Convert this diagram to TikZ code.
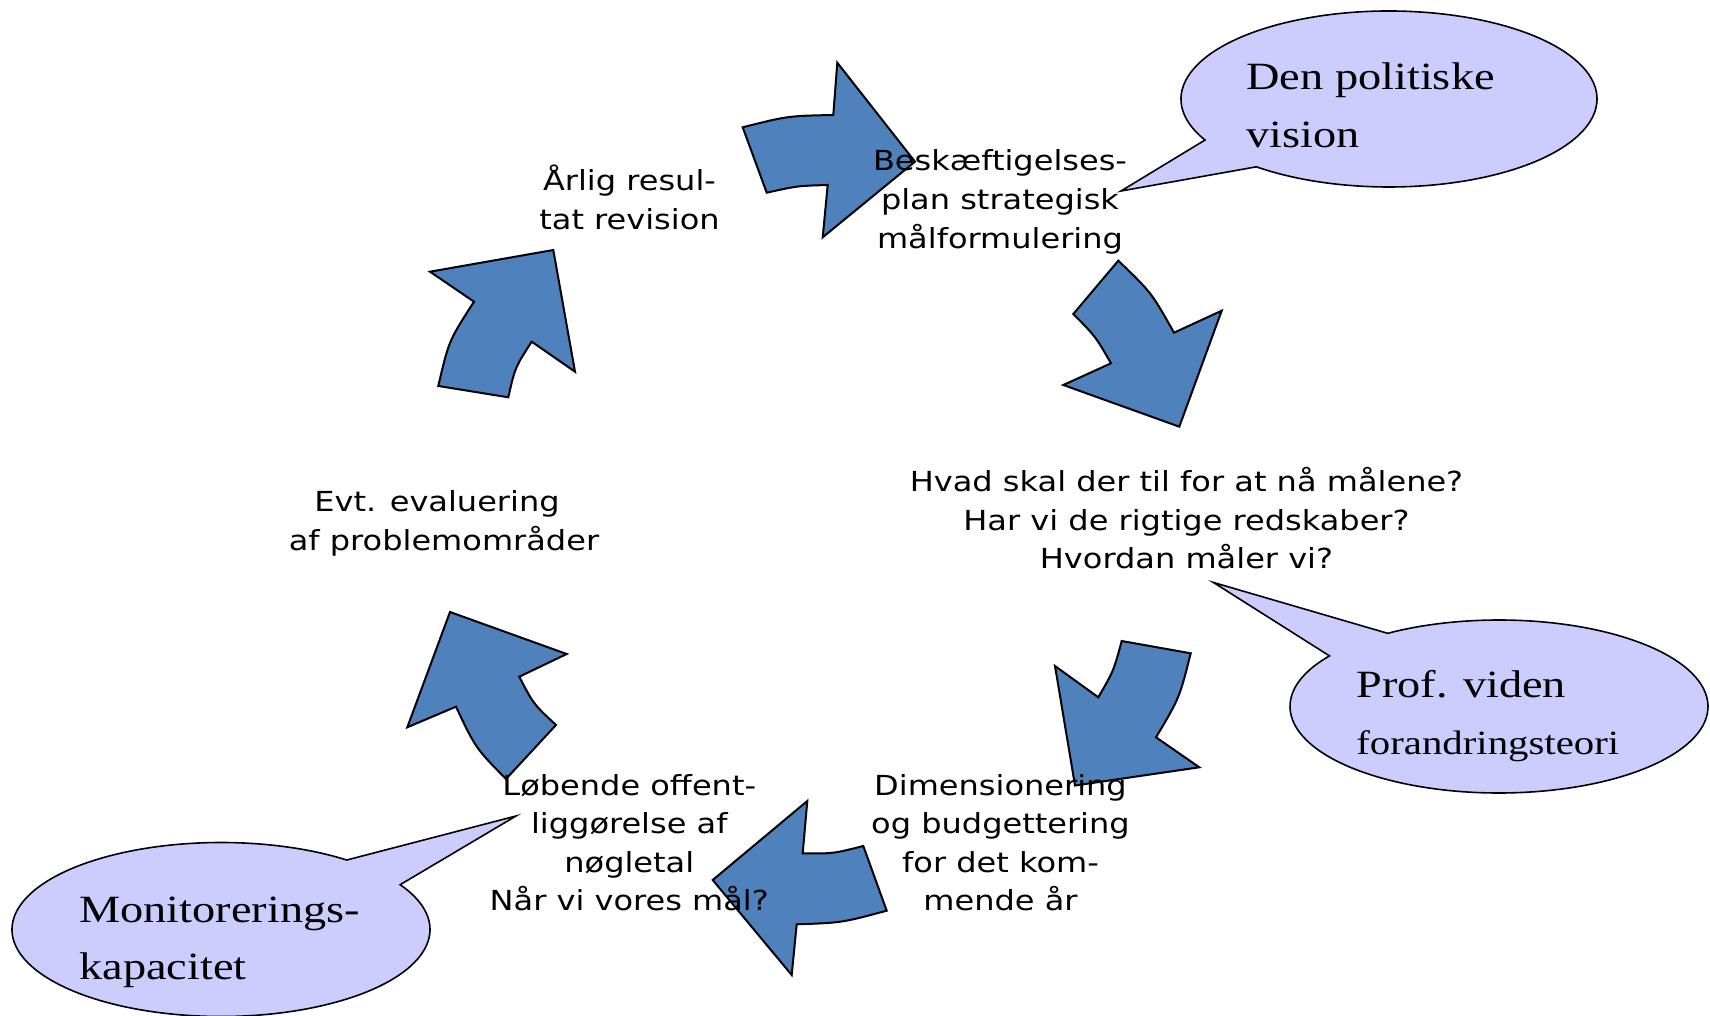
\documentclass[tikz,border=0pt]{standalone}
\usepackage{fontspec}
\usetikzlibrary{calc}
\newfontfamily\vfont[FakeStretch=1.16]{DejaVu Sans}
\newfontfamily\gfont[FakeStretch=1.2]{Liberation Serif}
\definecolor{arrowblue}{RGB}{79,129,189}
\definecolor{calloutfill}{RGB}{204,204,255}
\newcommand\ctxt[1]{\begin{tabular}[t]{@{}c@{}}#1\end{tabular}}
\newcommand\ltxt[1]{\begin{tabular}[t]{@{}l@{}}#1\end{tabular}}
\begin{document}
\begin{tikzpicture}[x=0.5pt,y=-0.5pt,
  cyclearrow/.style={fill=arrowblue, draw=black, line width=1pt, line join=miter},
  callout/.style={fill=calloutfill, draw=black, line width=0.8pt},
  steplabel/.style={font=\vfont\fontsize{13.8}{19.3}\selectfont, inner sep=0pt, anchor=base},
  calltext/.style={font=\gfont\fontsize{19.3}{28.6}\selectfont, inner sep=0pt, anchor=base west}]
\useasboundingbox (0,0) rectangle (1710,1016);
\fill[white] (0,0) rectangle (1710,1016);

% cycle arrows
\draw[cyclearrow] (742.7,127.3) .. controls (788,115.9) .. (833.3,115) -- (837.3,62.7) -- (915,161.7)
  -- (822.7,237.3) -- (827.7,185) .. controls (797.2,185.9) .. (766.7,192.7) -- cycle;
\draw[cyclearrow] (1118.3,260.7) .. controls (1151.5,292.6) .. (1174,332.7) -- (1221.7,310.7)
  -- (1179.3,426.7) -- (1063.3,385) -- (1111,363.3) .. controls (1095.4,336.3) .. (1073.3,314) -- cycle;
\draw[cyclearrow] (1121.7,641) -- (1190.7,653.3) .. controls (1179.5,697.9) .. (1156,737.3)
  -- (1199.3,767.3) -- (1075,785.5) -- (1055,666) -- (1098.3,697.3) .. controls (1113.7,670.7) .. (1121.7,641) -- cycle;
\draw[cyclearrow] (863.3,846) -- (886.7,910.7) .. controls (841.7,922.8) .. (796.7,924.3)
  -- (791.7,975) -- (712.7,880) -- (807.3,801) -- (802.7,853.3) .. controls (833,853.7) .. (863.3,846) -- cycle;
\draw[cyclearrow] (450,612) -- (566.7,654) -- (519.3,676.7) .. controls (533.5,704.1) .. (556,725)
  -- (506,779) .. controls (475.5,748) .. (456,706.7) -- (407.3,727.3) -- cycle;
\draw[cyclearrow] (553.3,250) -- (575,371.7) -- (531.7,341.7) .. controls (515.1,367.4) .. (508.3,397.3)
  -- (438.3,386) .. controls (448.8,340.8) .. (474,301.7) -- (430,271.7) -- cycle;

% callouts
\coordinate (c1) at (1389,99);
\coordinate (t1) at (1121,191);
\draw[callout] ($(c1)+(129.6:208 and 88)$) -- (t1) -- ($(c1)+(152.2:208 and 88)$)
  arc[start angle=152.2, end angle=489.6, x radius=208, y radius=88] -- cycle;
\coordinate (c2) at (1499,706.5);
\coordinate (t2) at (1213.5,582.5);
\draw[callout] ($(c2)+(237.8:209 and 86.5)$) -- (t2) -- ($(c2)+(215.8:209 and 86.5)$)
  arc[start angle=215.8, end angle=-122.2, x radius=209, y radius=86.5] -- cycle;
\coordinate (c3) at (221,929.5);
\coordinate (t3) at (516,816);
\draw[callout] ($(c3)+(-53:209 and 87)$) -- (t3) -- ($(c3)+(-31:209 and 87)$)
  arc[start angle=-31, end angle=307, x radius=209, y radius=87] -- cycle;

\node[calltext] (vision) at (1246,90) {\ltxt{Den politiske\\vision}};
\node[calltext, font=\gfont\fontsize{19.3}{28.4}\selectfont] (viden) at (1356,697.5)
  {\ltxt{Prof. viden\\{\fontsize{17}{28.4}\selectfont forandringsteori}}};
\node[calltext] (monitor) at (79,922.5) {\ltxt{Monitorerings-\\kapacitet}};

% step labels
\node[steplabel] (aarlig) at (629.5,190.5) {\ctxt{Årlig resul-\\tat revision}};
\node[steplabel] (besk) at (1000,171) {\ctxt{Beskæftigelses-\\plan strategisk\\målformulering}};
\node[steplabel] (hvad) at (1186.5,491.5) {\ctxt{Hvad skal der til for at nå målene?\\Har vi de rigtige redskaber?\\Hvordan måler vi?}};
\node[steplabel] (dim) at (1000.5,795) {\ctxt{Dimensionering\\og budgettering\\for det kom-\\mende år}};
\node[steplabel] (lob) at (629.3,795) {\ctxt{Løbende offent-\\liggørelse af\\nøgletal\\Når vi vores mål?}};
\node[steplabel] (evt) at (444,511.5) {\ctxt{Evt. evaluering\hspace*{7pt}\\af problemområder}};
\end{tikzpicture}
\end{document}
